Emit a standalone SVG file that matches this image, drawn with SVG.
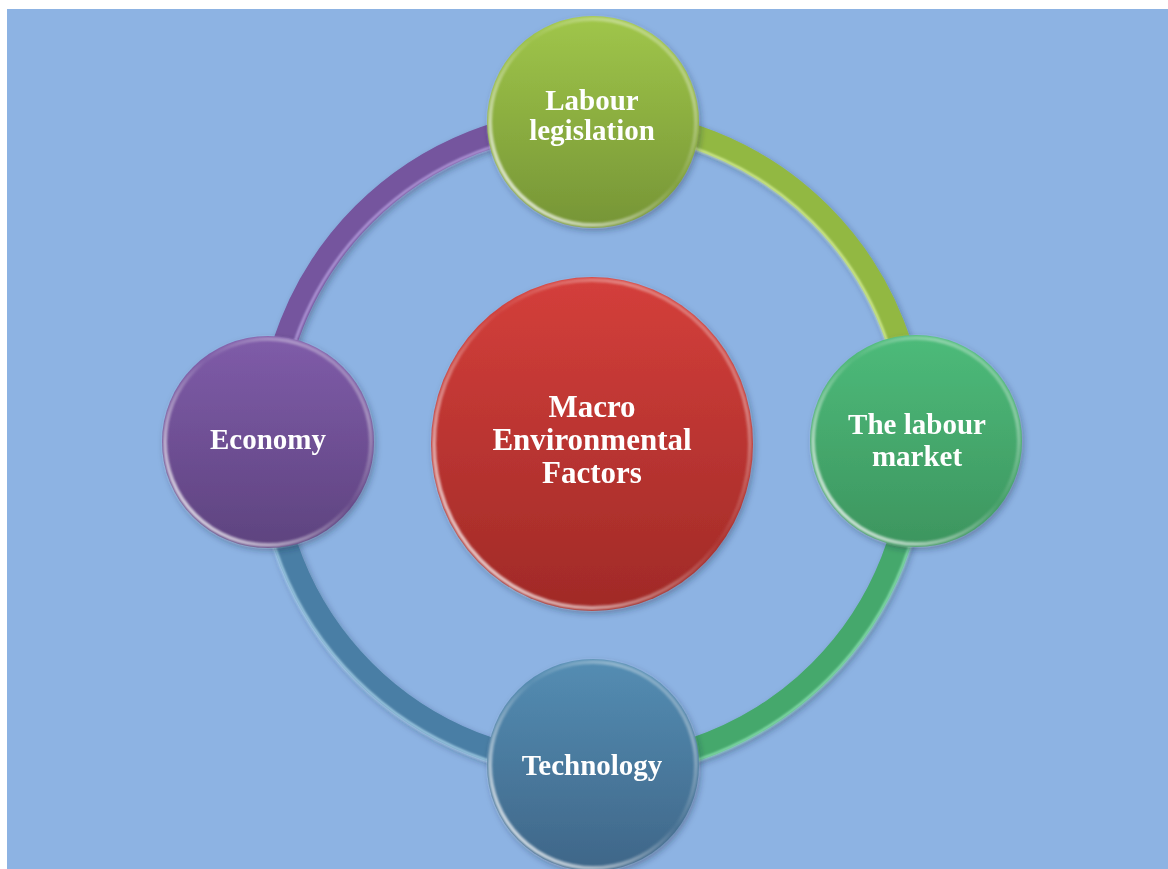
<svg xmlns="http://www.w3.org/2000/svg" width="1168" height="869" viewBox="0 0 1168 869">
<defs>
<style>
.lbl{font-family:"Liberation Serif","Times New Roman",serif;font-weight:bold;fill:#ffffff;text-anchor:middle;font-size:29px}
.big{font-size:31px}
.arc{fill:none;stroke-width:24}
.hl{fill:none;stroke-width:2.5;stroke-opacity:0.75}
.rim{fill:none;stroke:url(#rim);stroke-width:4}
</style>
<filter id="sh" x="-20%" y="-20%" width="140%" height="140%">
<feDropShadow dx="2" dy="3" stdDeviation="3" flood-color="#1c2c44" flood-opacity="0.35"/>
</filter>
<filter id="blur" x="-10%" y="-10%" width="120%" height="120%">
<feGaussianBlur stdDeviation="0.8"/>
</filter>
<linearGradient id="gRed" x1="0" y1="0" x2="0" y2="1">
<stop offset="0" stop-color="#d43f3b"/><stop offset="1" stop-color="#a02a27"/>
</linearGradient>
<linearGradient id="gLime" x1="0" y1="0" x2="0" y2="1">
<stop offset="0" stop-color="#a0c64a"/><stop offset="1" stop-color="#769536"/>
</linearGradient>
<linearGradient id="gGreen" x1="0" y1="0" x2="0" y2="1">
<stop offset="0" stop-color="#4dbb7a"/><stop offset="1" stop-color="#3d955f"/>
</linearGradient>
<linearGradient id="gBlue" x1="0" y1="0" x2="0" y2="1">
<stop offset="0" stop-color="#548db3"/><stop offset="1" stop-color="#3f6688"/>
</linearGradient>
<linearGradient id="gPurple" x1="0" y1="0" x2="0" y2="1">
<stop offset="0" stop-color="#7f5ca9"/><stop offset="1" stop-color="#5e437f"/>
</linearGradient>
<linearGradient id="rim" x1="0" y1="1" x2="1" y2="0">
<stop offset="0" stop-color="#ffffff" stop-opacity="0.95"/>
<stop offset="0.3" stop-color="#ffffff" stop-opacity="0.45"/>
<stop offset="0.55" stop-color="#ffffff" stop-opacity="0.05"/>
<stop offset="0.8" stop-color="#ffffff" stop-opacity="0.35"/>
<stop offset="1" stop-color="#ffffff" stop-opacity="0.15"/>
</linearGradient>
</defs>
<rect x="0" y="0" width="1168" height="869" fill="#ffffff"/>
<rect x="7" y="9" width="1161" height="860" fill="#8db3e3"/>

<g id="connectors" filter="url(#sh)">
<path class="arc" stroke="#74559e" d="M269,443 A323,323 0 0 1 592,120"/>
<path class="arc" stroke="#92b843" d="M592,120 A323,323 0 0 1 915,443"/>
<path class="arc" stroke="#45a86c" d="M915,443 A323,323 0 0 1 592,766"/>
<path class="arc" stroke="#4a7ea5" d="M592,766 A323,323 0 0 1 269,443"/>
<path class="hl" stroke="#c9b3f0" d="M278,443 A312,312 0 0 1 592,131" filter="url(#blur)"/>
<path class="hl" stroke="#eaffb0" d="M592,131 A312,312 0 0 1 904,443" filter="url(#blur)"/>
<path class="hl" stroke="#9ff0c4" d="M926,443 A334,334 0 0 1 592,777" filter="url(#blur)"/>
<path class="hl" stroke="#c4ecff" d="M592,777 A334,334 0 0 1 258,443" filter="url(#blur)"/>
</g>

<g id="center" filter="url(#sh)">
<ellipse cx="592" cy="444" rx="161" ry="167" fill="url(#gRed)"/>
<ellipse cx="592" cy="444" rx="158" ry="164" class="rim" filter="url(#blur)"/>
<text class="lbl big" x="592" y="417">Macro</text>
<text class="lbl big" x="592" y="450">Environmental</text>
<text class="lbl big" x="592" y="483">Factors</text>
</g>

<g id="labour-legislation" filter="url(#sh)">
<circle cx="593" cy="122" r="106" fill="url(#gLime)"/>
<circle cx="593" cy="122" r="103" class="rim" filter="url(#blur)"/>
<text class="lbl" x="592" y="110">Labour</text>
<text class="lbl" x="592" y="140">legislation</text>
</g>

<g id="labour-market" filter="url(#sh)">
<circle cx="916" cy="441" r="106" fill="url(#gGreen)"/>
<circle cx="916" cy="441" r="103" class="rim" filter="url(#blur)"/>
<text class="lbl" x="917" y="434">The labour</text>
<text class="lbl" x="917" y="466">market</text>
</g>

<g id="technology" filter="url(#sh)">
<circle cx="593" cy="765" r="106" fill="url(#gBlue)"/>
<circle cx="593" cy="765" r="103" class="rim" filter="url(#blur)"/>
<text class="lbl" x="592" y="775">Technology</text>
</g>

<g id="economy" filter="url(#sh)">
<circle cx="268" cy="442" r="106" fill="url(#gPurple)"/>
<circle cx="268" cy="442" r="103" class="rim" filter="url(#blur)"/>
<text class="lbl" x="268" y="449">Economy</text>
</g>
</svg>
